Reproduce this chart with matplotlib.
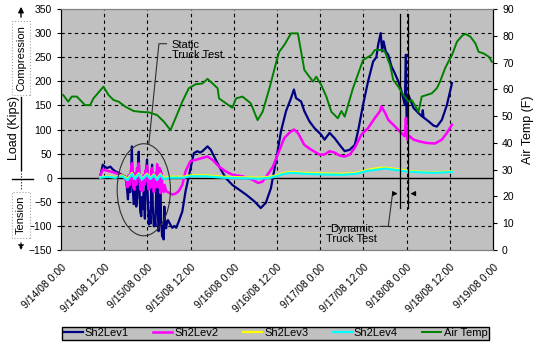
import matplotlib
matplotlib.use("Agg")
import matplotlib.pyplot as plt
from matplotlib.patches import Ellipse

plt.rcParams['font.family'] = ['Liberation Sans', 'DejaVu Sans']

# x values are hours after 9/14/08 0:00
tick_labels = ["9/14/08 0:00", "9/14/08 12:00", "9/15/08 0:00", "9/15/08 12:00",
               "9/16/08 0:00", "9/16/08 12:00", "9/17/08 0:00", "9/17/08 12:00",
               "9/18/08 0:00", "9/18/08 12:00", "9/19/08 0:00"]

lev1_hours = [10.9, 11.6, 12.3, 12.8, 13.7, 14.3, 15.1, 16.0, 16.9, 17.9,
              18.3, 18.6, 18.9, 19.2, 19.5, 19.7, 19.9, 20.2, 20.4, 20.7,
              20.9, 21.2, 21.4, 21.6, 21.8, 22.0, 22.3, 22.5, 22.8, 23.0,
              23.3, 23.6, 23.9, 24.1, 24.4, 24.6, 24.9, 25.1, 25.3, 25.5,
              25.8, 26.0, 26.2, 26.5, 26.7, 26.9, 27.1, 27.3, 27.5, 27.6,
              27.8, 28.1, 28.3, 28.5, 28.7, 28.9, 29.2, 29.5, 29.7, 30.2,
              30.9, 31.5, 32.0, 32.7, 33.7, 34.6, 36.0, 36.9, 37.9, 38.6,
              39.3, 40.0, 40.7, 41.6, 43.0, 44.4, 45.8, 47.6, 49.5, 51.4,
              53.7, 55.5, 56.9, 58.3, 59.7, 61.1, 62.5, 63.9, 64.7, 65.3,
              66.7, 67.6, 69.0, 70.4, 72.3, 73.2, 74.6, 76.0, 77.4, 78.8,
              80.2, 81.6, 82.5, 83.9, 85.3, 86.7, 87.6, 88.1, 88.8, 89.2,
              89.6, 90.2, 90.9, 91.8, 92.7, 93.7, 94.6, 95.5, 95.8, 96.0,
              96.5, 97.9, 99.3, 100.3, 100.5, 100.7, 102.1, 103.5, 104.4, 105.8,
              107.2, 108.6]
lev1_load = [3, 27, 22, 20, 23, 18, 13, 10, 6, 2,
             -20, -45, -5, -30, 20, 65, -20, -55, -49, -10,
             -60, -40, 30, 54, -20, -70, -80, -40, -65, -30,
             -85, 10, 38, -40, -97, -70, -95, 0, 27, -60,
             -101, -80, -100, -10, 20, -70, -111, -90, -5, 15,
             -90, -122, -100, -128, -60, -95, -105, -90, -88, -95,
             -104, -100, -104, -91, -70, -28, 20, 51, 55, 52,
             55, 60, 65, 58, 37, 17, -1, -15, -25, -35,
             -49, -63, -52, -22, 34, 96, 138, 165, 183, 165,
             158, 138, 117, 103, 89, 79, 93, 82, 68, 55,
             58, 68, 96, 151, 200, 241, 250, 276, 300, 262,
             283, 262, 255, 231, 217, 200, 179, 151, 255, 110,
             172, 145, 134, 127, 140, 125, 117, 108, 106, 120,
             151, 196]

lev2_hours = [10.9, 11.6, 12.5, 13.7, 15.1, 16.0, 17.0, 17.9, 18.2, 18.5,
              18.8, 19.1, 19.4, 19.7, 19.9, 20.1, 20.4, 20.6, 20.9, 21.1,
              21.4, 21.6, 21.8, 22.1, 22.3, 22.6, 22.9, 23.1, 23.4, 23.7,
              23.9, 24.1, 24.4, 24.7, 24.9, 25.1, 25.3, 25.6, 25.8, 26.1,
              26.3, 26.5, 26.7, 26.9, 27.2, 27.4, 27.6, 27.9, 28.2, 28.5,
              28.8, 29.2, 30.2, 30.9, 31.8, 32.7, 33.7, 34.6, 35.9, 37.4,
              39.3, 40.7, 42.1, 43.9, 45.8, 47.6, 50.4, 53.1, 54.8, 56.0,
              57.9, 58.8, 60.2, 62.0, 63.4, 64.7, 65.8, 67.6, 69.5, 71.8,
              73.2, 74.6, 76.0, 77.4, 78.8, 80.2, 81.6, 83.4, 85.3, 87.2,
              88.6, 89.0, 90.0, 90.9, 92.3, 94.1, 95.5, 95.8, 96.2, 96.9,
              97.9, 99.7, 101.6, 103.9, 105.8, 107.2, 108.6]
lev2_load = [3, 17, 15, 13, 10, 7, 4, 0, -10, -20,
             5, -15, 15, 30, 0, -20, -25, 10, -15, 20,
             5, 30, -5, -25, -10, -28, 5, -15, 15, -5,
             25, -10, -25, 0, -20, 15, 20, -15, -30, -5,
             10, -20, 28, 5, -20, 20, -32, 10, -25, -30,
             -15, -28, -32, -35, -33, -28, -15, 13, 34, 37,
             41, 44, 37, 23, 13, 6, 3, -4, -11, -8,
             12, 22, 48, 82, 93, 100, 93, 68, 58, 48,
             48, 55, 52, 46, 44, 48, 62, 89, 103, 124,
             138, 148, 135, 120, 110, 96, 86, 124, 79, 86,
             79, 75, 72, 71, 79, 93, 110]

lev4_hours = [10.9, 13.0, 15.0, 17.0, 18.5, 19.7, 20.5, 21.6, 22.5, 23.9,
              24.8, 25.8, 26.7, 27.6, 28.5, 30.0, 34.0, 36.0, 40.0, 45.0,
              50.0, 55.0, 58.3, 62.0, 64.0, 68.0, 72.0, 78.0, 82.0, 85.0,
              88.0, 90.0, 93.0, 96.0, 100.0, 104.0, 108.6]
lev4_load = [0, 2, 0, 3, -5, 8, -3, 7, -4, 6,
             -3, 5, -5, 6, -3, 0, 0, 3, 3, 0,
             -1, -2, 0, 8, 10, 8, 7, 6, 8, 14,
             17, 19, 16, 13, 11, 10, 12]
lev3_load = [1, 3, 1, 5, -2, 10, -1, 9, -2, 8,
             -1, 7, -3, 8, -1, 2, 2, 5, 5, 2,
             1, 0, 2, 10, 12, 10, 9, 8, 10, 16,
             20, 21, 18, 15, 12, 11, 13]

air_hours = [0.6, 2.0, 3.0, 4.4, 6.7, 8.1, 9.0, 11.8, 13.2, 14.6,
             16.0, 17.9, 20.2, 22.0, 24.4, 26.7, 28.6, 30.4, 31.8, 33.7,
             35.5, 37.4, 39.3, 40.7, 42.1, 43.5, 43.9, 45.8, 47.6, 48.6,
             50.4, 52.7, 54.6, 56.0, 57.9, 59.7, 60.6, 62.0, 63.9, 65.8,
             67.6, 69.0, 70.0, 70.9, 72.3, 73.7, 75.1, 76.9, 77.9, 78.8,
             81.1, 83.9, 86.2, 87.2, 89.0, 90.0, 91.4, 92.3, 93.7, 95.1,
             96.5, 97.4, 98.3, 99.3, 100.2, 101.6, 103.0, 104.4, 105.3, 106.7,
             107.6, 108.6, 110.0, 111.4, 112.3, 113.7, 115.1, 116.0, 117.4, 118.8,
             119.7]
air_temp = [57.9, 55.4, 57.3, 57.3, 54.1, 54.1, 56.6, 61.0, 57.9, 56.0,
            55.4, 53.5, 51.9, 51.6, 51.4, 50.4, 47.9, 44.8, 49.2, 55.4,
            60.4, 61.9, 62.2, 63.9, 62.2, 60.4, 56.6, 54.8, 53.1, 56.6,
            57.3, 54.8, 48.5, 51.6, 60.4, 69.7, 74.0, 76.5, 80.9, 80.9,
            67.2, 64.7, 62.9, 64.7, 61.6, 57.3, 51.6, 49.2, 51.9, 49.8,
            60.4, 70.9, 72.8, 74.7, 74.7, 74.0, 69.1, 63.5, 61.0, 57.9,
            55.4, 56.0, 54.1, 51.6, 57.3, 57.9, 58.5, 60.4, 62.9, 67.9,
            70.3, 72.8, 77.8, 80.0, 80.7, 79.7, 77.2, 74.0, 73.4, 72.2,
            70.3]

fig = plt.figure(figsize=(5.37, 3.45), dpi=100)
ax = fig.add_axes([61 / 537, 95 / 345, 432 / 537, 241 / 345])
ax.set_facecolor('#c0c0c0')

ax.set_xlim(0, 120)
ax.set_ylim(-150, 350)
ax.set_yticks(range(-150, 351, 50))
ax.set_xticks(range(0, 121, 12))
ax.set_xticklabels(tick_labels, rotation=45, ha='right', rotation_mode='anchor', fontsize=7.5)
ax.tick_params(axis='x', length=0, pad=9)
ax.tick_params(axis='y', labelsize=7.5, length=3, direction='out')

for x in range(12, 120, 12):
    ax.axvline(x, color='k', ls=(0, (3, 3)), lw=0.8, zorder=1)
for y in range(-100, 301, 50):
    if y != 0:
        ax.axhline(y, color='k', ls=(0, (3, 3)), lw=0.8, zorder=1)
ax.axhline(0, color='k', lw=1, zorder=1)

l1, = ax.plot(lev1_hours, lev1_load, color='#000080', lw=1.6, label='Sh2Lev1', zorder=3)
l2, = ax.plot(lev2_hours, lev2_load, color='#ff00ff', lw=1.8, label='Sh2Lev2', zorder=3)
l3, = ax.plot(lev4_hours, lev3_load, color='#ffff00', lw=1.6, label='Sh2Lev3', zorder=3)
l4, = ax.plot(lev4_hours, lev4_load, color='#00ffff', lw=1.6, label='Sh2Lev4', zorder=3)

for side in ['top', 'bottom']:
    ax.spines[side].set_color('#808080')

ax2 = ax.twinx()
ax2.set_ylim(0, 90)
ax2.set_yticks(range(0, 91, 10))
ax2.tick_params(axis='y', labelsize=7.5, length=3, direction='out')
ax2.set_ylabel('Air Temp (F)', fontsize=9, labelpad=6)
for side in ['top', 'bottom']:
    ax2.spines[side].set_color('#808080')
l5, = ax2.plot(air_hours, air_temp, color='#008000', lw=1.4, label='Air Temp')

# static truck test annotation
ax.add_patch(Ellipse((23.0, -25), 14.8, 191, fill=False, ec='#303030', lw=0.8, zorder=4))
ax.plot([24.4, 27.2, 29.3], [70, 278, 278], color='#303030', lw=0.8, zorder=4)
ax.text(30.7, 265, 'Static\nTruck Test', fontsize=8, ha='left', va='center', linespacing=1.0, zorder=5)

# dynamic truck test annotation
ax.plot([94.3, 94.3], [-62, 340], color='k', lw=0.9, zorder=4)
ax.plot([96.3, 96.3], [-62, 340], color='k', lw=0.9, zorder=4)
ax.annotate('', xy=(94.3, -33), xytext=(91.3, -33),
            arrowprops=dict(arrowstyle='-|>', color='k', lw=0.8, mutation_scale=7), zorder=5)
ax.annotate('', xy=(96.3, -33), xytext=(99.1, -33),
            arrowprops=dict(arrowstyle='-|>', color='k', lw=0.8, mutation_scale=7), zorder=5)
ax.plot([92.1, 90.9, 88.6], [-33, -101, -101], color='#303030', lw=0.8, zorder=4)
ax.text(80.7, -116, 'Dynamic\nTruck Test', fontsize=8, ha='center', va='center',
        multialignment='center', linespacing=1.0, zorder=5)

# left axis title with compression / tension arrows
fp = 'figure pixels'
ax.annotate('', xy=(21, 341), xytext=(21, 325), xycoords=fp, textcoords=fp,
            arrowprops=dict(arrowstyle='-|>', color='k', lw=1, mutation_scale=8))
ax.annotate('', xy=(21, 92), xytext=(21, 105), xycoords=fp, textcoords=fp,
            arrowprops=dict(arrowstyle='-|>', color='k', lw=0.8, ls=':', mutation_scale=8))
fig.add_artist(plt.Line2D([21 / 537, 21 / 537], [248 / 345, 175 / 345], color='k', lw=1))
fig.add_artist(plt.Line2D([21 / 537, 21 / 537], [175 / 345, 155 / 345], color='k', lw=0.8, ls=':'))
fig.add_artist(plt.Line2D([12 / 537, 33 / 537], [166 / 345, 166 / 345], color='k', lw=1))
fig.text(21 / 537, 287 / 345, 'Compression', rotation=90, fontsize=8, ha='center', va='center',
         bbox=dict(boxstyle='square,pad=0.35', fc='white', ec='#a0a0a0', ls=':', lw=0.8))
fig.text(21 / 537, 130 / 345, 'Tension', rotation=90, fontsize=8, ha='center', va='center',
         bbox=dict(boxstyle='square,pad=0.35', fc='white', ec='#a0a0a0', ls=':', lw=0.8))
fig.text(14 / 537, 217 / 345, 'Load (Kips)', rotation=90, fontsize=9, ha='center', va='center')

leg = fig.legend(handles=[l1, l2, l3, l4, l5], loc='lower left', ncol=5,
                 bbox_to_anchor=(62 / 537, 5 / 345, 427 / 537, 17 / 345), mode='expand',
                 fontsize=8, handlelength=1.7, handletextpad=0.2, borderpad=0.15,
                 fancybox=False, framealpha=1, edgecolor='k', facecolor='#c0c0c0',
                 borderaxespad=0, columnspacing=1.0)
leg.get_frame().set_linewidth(1)

fig.savefig('out.png', dpi=100)
